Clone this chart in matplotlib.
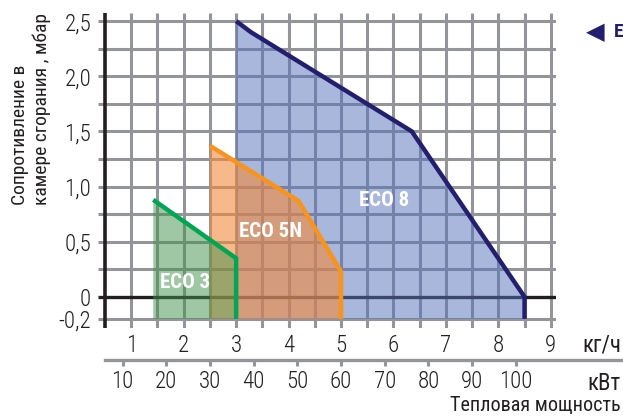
import numpy as np
import matplotlib
matplotlib.use("Agg")
import matplotlib.pyplot as plt
from matplotlib import font_manager as fm

# ---- data -------------------------------------------------------------
# burner capacity (kg/h) vs. combustion chamber back pressure (mbar)
eco3_flow = [1.42, 3.0, 3.0]
eco3_dp = [0.88, 0.35, -0.2]

eco5_flow = [2.5, 4.19, 5.0, 5.0]
eco5_dp = [1.37, 0.87, 0.23, -0.2]

eco8_flow = [3.0, 3.28, 6.35, 8.5, 8.5]
eco8_dp = [2.5, 2.40, 1.5, 0.0, -0.2]

kg_ticks = [1, 2, 3, 4, 5, 6, 7, 8, 9]
kw_ticks = [10, 20, 30, 40, 50, 60, 70, 80, 90, 100]
y_ticks = [-0.2, 0.0, 0.5, 1.0, 1.5, 2.0, 2.5]
y_labels = ["-0,2", "0", "0,5", "1,0", "1,5", "2,0", "2,5"]
KW_PER_KG = 12.0

# ---- fonts ------------------------------------------------------------
available = {f.name for f in fm.fontManager.ttflist}
base = "DejaVu Sans"
for cand in ["Roboto Condensed", "Liberation Sans Narrow", "Open Sans Condensed", "DejaVu Sans"]:
    if cand in available:
        base = cand
        break
plt.rcParams["font.family"] = [base, "DejaVu Sans"]

TXT = "#231f20"
GRID = "#939598"
NAVY = "#231f6f"
GREEN = "#00a651"
ORANGE = "#f7941d"

fig = plt.figure(figsize=(6.23, 4.17), dpi=100)
W, H = 623, 417
ax = fig.add_axes([98 / W, (H - 328) / H, 458 / W, 315 / H])
x0, x1 = 0.366, 9.1
y0, y1 = -0.282, 2.573
ax.set_xlim(x0, x1)
ax.set_ylim(y0, y1)
for s in ax.spines.values():
    s.set_visible(False)

# grid
grid_y = [-0.2] + list(np.arange(0.25, 2.51, 0.25))
grid_x = list(np.arange(1.0, 9.01, 0.5))
for gy in grid_y:
    ax.plot([x0, x1], [gy, gy], color=GRID, lw=2.2, zorder=1, solid_capstyle="butt")
for gx in grid_x:
    ax.plot([gx, gx], [y0, y1], color=GRID, lw=2.2, zorder=1, solid_capstyle="butt")
ax.plot([x0, x1], [0, 0], color=TXT, lw=2.4, zorder=1.5, solid_capstyle="butt")
ax.plot([0.5, 0.5], [y0, y1], color=TXT, lw=2.6, zorder=1.5, solid_capstyle="butt")

# capacity regions
def region(flow, dp, face, alpha, line, z):
    px = list(flow) + [flow[0]]
    py = list(dp) + [-0.2]
    ax.fill(px, py, color=face, alpha=alpha, lw=0, zorder=z)
    ax.plot(flow, dp, color=line, lw=3.2, zorder=5, solid_capstyle="butt",
            solid_joinstyle="miter")

region(eco8_flow, eco8_dp, "#5371b9", 0.5, NAVY, 2)
region(eco5_flow, eco5_dp, "#f28a3c", 0.6, ORANGE, 2.1)
region(eco3_flow, eco3_dp, "#41914b", 0.5, GREEN, 2.2)

lab = dict(color="white", fontsize=15, fontweight="bold", ha="center", va="center", zorder=6)
ax.text(2.02, 0.13, "ECO 3", **lab)
ax.text(3.65, 0.59, "ECO 5N", **lab)
ax.text(5.82, 0.87, "ECO 8", **lab)

# primary axis ticks
ax.set_xticks(kg_ticks)
ax.set_xticklabels([str(v) for v in kg_ticks])
ax.set_yticks(y_ticks)
ax.set_yticklabels(y_labels)
ax.tick_params(axis="both", length=0, labelsize=16.5, labelcolor=TXT)
ax.tick_params(axis="x", pad=4.5)
ax.tick_params(axis="y", pad=5)
for t in ax.get_xticklabels() + ax.get_yticklabels():
    t.set_fontweight("light")

# secondary thermal power axis
sec = ax.secondary_xaxis(-(360 - 328) / 315,
                         functions=(lambda x: x * KW_PER_KG, lambda x: x / KW_PER_KG))
sec.set_xticks(kw_ticks)
sec.set_xticklabels([str(v) for v in kw_ticks])
sec.tick_params(axis="x", direction="out", length=4.5, width=2.2, color=GRID,
                labelsize=16.5, labelcolor=TXT, pad=3)
for t in sec.get_xticklabels():
    t.set_fontweight("light")
sec.spines["bottom"].set_color(GRID)
sec.spines["bottom"].set_linewidth(2.4)
sec.spines["bottom"].set_bounds(0.5 * KW_PER_KG, 10.5 * KW_PER_KG)

# axis titles
fig.text(31 / W, (H - 205) / H, "Сопротивление в\nкамере сгорания , мбар",
         rotation=90, ha="center", va="bottom", multialignment="left",
         fontsize=14, color=TXT)
fig.text(621 / W, 1 - 345 / H, "кг/ч", ha="right", va="center", fontsize=16.5, color=TXT)
fig.text(621 / W, 1 - 383 / H, "кВт", ha="right", va="center", fontsize=16.5, color=TXT)
fig.text(621 / W, 1 - 405 / H, "Тепловая мощность", ha="right", va="center",
         fontsize=14.5, color=TXT)

# series marker in the top-right corner
fig.text(586 / W, 1 - 32 / H, "◀", ha="left", va="center", fontsize=17.5,
         color=NAVY, family="DejaVu Sans")
fig.text(614 / W, 1 - 32 / H, "ECO 8", ha="left", va="center", fontsize=14,
         fontweight="bold", color=NAVY)

fig.savefig("out.png", dpi=100)
